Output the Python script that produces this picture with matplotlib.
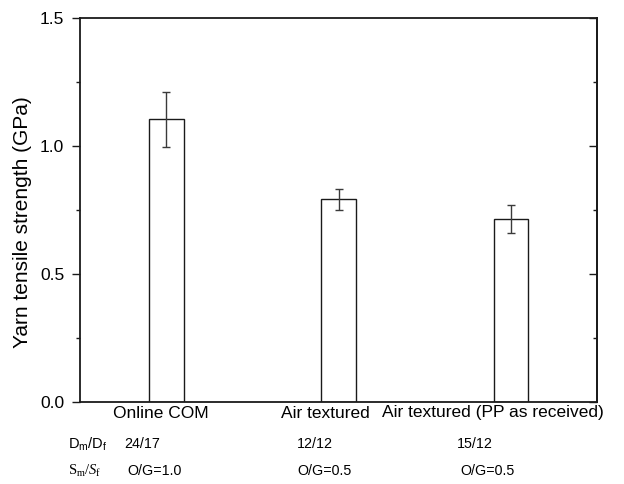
import matplotlib
matplotlib.use("Agg")
import matplotlib.pyplot as plt
import matplotlib.transforms as mtransforms

plt.rcParams['font.family'] = ['Liberation Sans', 'DejaVu Sans']
plt.rcParams['mathtext.fontset'] = 'custom'
plt.rcParams['mathtext.rm'] = 'Liberation Serif'
plt.rcParams['mathtext.it'] = 'Liberation Serif:italic'
plt.rcParams['mathtext.sf'] = 'Liberation Sans'

categories = ["Online COM", "Air textured", "Air textured (PP as received)"]
positions = [1, 2, 3]
strength = [1.105, 0.792, 0.716]
errors = [0.107, 0.041, 0.054]
dm_df = ["24/17", "12/12", "15/12"]
sm_sf = ["O/G=1.0", "O/G=0.5", "O/G=0.5"]

fig = plt.figure(figsize=(6.24, 4.84), dpi=100)
ax = fig.add_axes([0.1287, 0.1684, 0.828, 0.7944])

ax.bar(positions, strength, width=0.2, color='white', edgecolor='#1a1a1a', linewidth=1.0, zorder=2)
ax.errorbar(positions, strength, yerr=errors, fmt='none', ecolor='#3a3a3a', elinewidth=1.0,
            capsize=3.0, capthick=1.0, zorder=3)

ax.set_xlim(0.5, 3.5)
ax.set_ylim(0.0, 1.5)
ax.set_yticks([0.0, 0.5, 1.0, 1.5])
ax.set_yticks([0.25, 0.75, 1.25], minor=True)
ax.set_yticklabels(["0.0", "0.5", "1.0", "1.5"])
ax.set_xticks([])
ax.tick_params(axis='y', which='major', direction='out', length=6, width=1.0, labelsize=12.5, pad=5.5, color='#1a1a1a')
ax.tick_params(axis='y', which='minor', direction='out', length=3, width=1.0, color='#1a1a1a')
for s in ax.spines.values():
    s.set_linewidth(1.3)
    s.set_color('#1a1a1a')

sec = ax.secondary_yaxis('right')
sec.set_yticks([0.0, 0.5, 1.0, 1.5])
sec.set_yticks([0.25, 0.75, 1.25], minor=True)
sec.set_yticklabels([])
sec.tick_params(axis='y', which='major', direction='in', length=6, width=1.0, color='#1a1a1a')
sec.tick_params(axis='y', which='minor', direction='in', length=3, width=1.0, color='#1a1a1a')
sec.spines['right'].set_linewidth(1.3)
sec.spines['right'].set_color('#1a1a1a')

ax.set_ylabel("Yarn tensile strength (GPa)", fontsize=15)
ax.yaxis.set_label_coords(-0.0934, 0.469)

trans = mtransforms.blended_transform_factory(ax.transData, fig.transFigure)
label_x = [0.965, 1.923, 2.898]
for x, lab in zip(label_x, categories):
    ax.text(x, 1 - 413 / 484, lab, transform=trans, ha='center', va='center', fontsize=12.5, clip_on=False)

ax.text(0.431, 1 - 444 / 484, r'$\mathsf{D_m/D_f}$', transform=trans, ha='left', va='center', fontsize=10.5, clip_on=False)
ax.text(0.431, 1 - 471 / 484, r'$\mathrm{S_m/}S_\mathrm{f}$', transform=trans, ha='left', va='center', fontsize=10.5, clip_on=False)

d_x = [0.756, 1.760, 2.689]
s_x = [0.774, 1.760, 2.707]
for x, t in zip(d_x, dm_df):
    ax.text(x, 1 - 444 / 484, t, transform=trans, ha='left', va='center', fontsize=10.3, clip_on=False)
for x, t in zip(s_x, sm_sf):
    ax.text(x, 1 - 471 / 484, t, transform=trans, ha='left', va='center', fontsize=10.3, clip_on=False)

fig.savefig("out.png", dpi=100)
